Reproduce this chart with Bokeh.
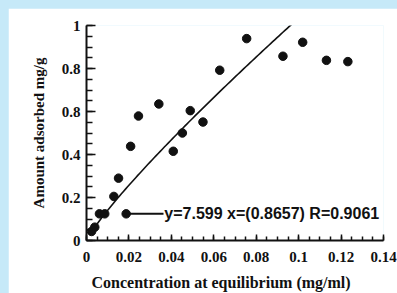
import numpy as np
from bokeh.plotting import figure
from bokeh.models import FixedTicker, Label, Range1d, Title
from bokeh.embed import file_html
from bokeh.resources import INLINE

# ---- data ----
conc = [0.0024, 0.0039, 0.0061, 0.0086, 0.0129, 0.0151, 0.0187, 0.0208, 0.0245, 0.0341,
        0.0409, 0.0452, 0.0489, 0.0549, 0.0628, 0.0755, 0.0926, 0.1019, 0.1131, 0.1232]
adsorbed = [0.042, 0.062, 0.124, 0.124, 0.205, 0.290, 0.124, 0.438, 0.579, 0.635,
            0.415, 0.500, 0.604, 0.551, 0.792, 0.939, 0.857, 0.922, 0.838, 0.832]

fit_a = 7.599
fit_b = 0.8657
fit_r = 0.9061
fit_x_start = 0.002
fit_x_end = 0.0974

x_ticks = [0, 0.02, 0.04, 0.06, 0.08, 0.1, 0.12, 0.14]
x_tick_labels = ["0", "0.02", "0.04", "0.06", "0.08", "0.1", "0.12", "0.14"]
y_ticks = [0, 0.2, 0.4, 0.6, 0.8, 1.0]
y_tick_labels = ["0", "0.2", "0.4", "0.8", "0.8", "1"]

x_title = "Concentration at equilibrium (mg/ml)"
y_title = "Amount adsorbed mg/g"

callout_point = 6          # index of the point the equation is attached to
callout_end_x = 0.0363

SERIF = "Liberation Serif"
SANS = "Liberation Sans"
INK = "#111111"

# the white panel runs to the right and bottom edges of the window
p = figure(width=400, height=300,
           min_border_left=78, min_border_right=25, min_border_top=17, min_border_bottom=68,
           x_range=Range1d(0, 0.14), y_range=Range1d(0, 1),
           output_backend="svg", toolbar_location=None)
p.outline_line_color = None
p.background_fill_color = "white"
p.border_fill_color = "white"
p.grid.visible = False

# fit curve
fx = np.linspace(fit_x_start, fit_x_end, 100)
fy = fit_a * fx ** fit_b
p.line(fx, fy, line_color=INK, line_width=1.6)

# callout
p.line([conc[callout_point], callout_end_x], [adsorbed[callout_point], adsorbed[callout_point]],
       line_color=INK, line_width=2)
p.add_layout(Label(x=callout_end_x + 0.0004, y=adsorbed[callout_point],
                   text=f"y={fit_a}  x=({fit_b})  R={fit_r}",
                   text_font=SANS, text_font_style="bold", text_font_size="16px",
                   text_baseline="middle", text_color=INK))

# x title, sitting a little left of the frame centre as in the original
p.add_layout(Title(text=x_title, align="left", offset=5, standoff=14,
                   text_font=SERIF, text_font_style="bold", text_font_size="16px",
                   text_color=INK), "below")

# points
p.scatter(conc, adsorbed, size=8.5, color=INK)

# axes
minor_x = [round(0.005 * i, 4) for i in range(29)]
minor_y = [round(0.05 * i, 3) for i in range(21)]
p.xaxis.ticker = FixedTicker(ticks=x_ticks, minor_ticks=minor_x)
p.yaxis.ticker = FixedTicker(ticks=y_ticks, minor_ticks=minor_y)
p.xaxis.major_label_overrides = {t: l for t, l in zip(x_ticks, x_tick_labels)}
p.yaxis.major_label_overrides = {t: l for t, l in zip(y_ticks, y_tick_labels)}

p.yaxis.axis_label = y_title

for ax in (p.xaxis, p.yaxis):
    ax.axis_line_width = 2
    ax.axis_line_color = INK
    ax.major_tick_line_color = INK
    ax.minor_tick_line_color = INK
    ax.major_tick_line_width = 1.5
    ax.minor_tick_line_width = 1.5
    ax.major_tick_out = 0
    ax.minor_tick_out = 0
    ax.major_label_text_font = SERIF
    ax.major_label_text_font_style = "bold"
    ax.major_label_text_font_size = "15px"
    ax.major_label_text_color = INK
    ax.axis_label_text_font = SERIF
    ax.axis_label_text_font_style = "bold"
    ax.axis_label_text_color = INK

p.yaxis.axis_label_text_font_size = "15px"
p.yaxis.major_tick_in = 9
p.yaxis.minor_tick_in = 6
p.xaxis.major_tick_in = 6
p.xaxis.minor_tick_in = 4
p.yaxis.major_label_standoff = 6
p.xaxis.major_label_standoff = 11
p.yaxis.axis_label_standoff = 12

html = file_html(p, INLINE)
html = html.replace(
    "</head>",
    "<style>html { overflow: hidden; background-color: #c6e9f8; } "
    "body { margin: 8px 0 0 8px; }</style></head>", 1)
open("out.html", "w").write(html)
